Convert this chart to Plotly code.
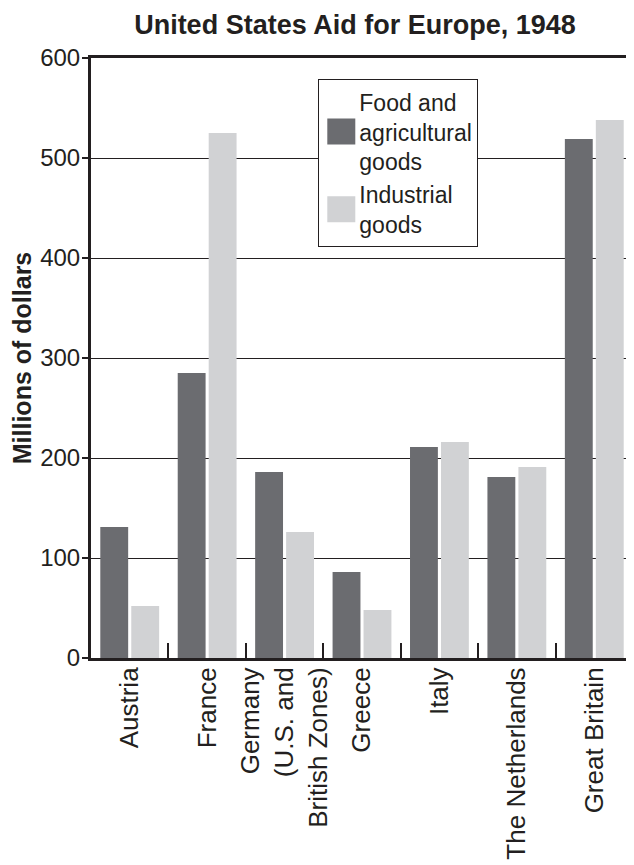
import plotly.graph_objects as go

countries = [
    "Austria",
    "France",
    "Germany<br>(U.S. and<br>British Zones)",
    "Greece",
    "Italy",
    "The Netherlands",
    "Great Britain",
]
food = [131, 285, 186, 86, 211, 181, 519]
industrial = [52, 525, 126, 48, 216, 191, 538]

y_ticks = [0, 100, 200, 300, 400, 500, 600]

FONT = "Liberation Sans, Arial, Helvetica, sans-serif"
DARK = "#6b6c70"
LIGHT = "#d1d2d4"
INK = "#231f20"

fig = go.Figure()
fig.add_trace(go.Bar(
    x=countries, y=food, name="Food and<br>agricultural<br>goods",
    marker=dict(color=DARK, line=dict(width=0)),
))
fig.add_trace(go.Bar(
    x=countries, y=industrial, name="Industrial<br>goods",
    marker=dict(color=LIGHT, line=dict(width=0)),
))

fig.update_layout(
    width=626, height=857,
    margin=dict(l=83, r=1, t=50, b=207),
    paper_bgcolor="white", plot_bgcolor="white",
    barmode="group", bargap=0.2, bargroupgap=0.1,
    font=dict(family=FONT, color=INK, size=24),
    title=dict(
        text="<b>United States Aid for Europe, 1948</b>",
        x=0.487, xref="paper", xanchor="center",
        y=0.981, yref="container", yanchor="middle",
        font=dict(size=27, color=INK, family=FONT),
    ),
    legend=dict(
        x=0.419, y=0.965, xanchor="left", yanchor="top",
        bgcolor="white", bordercolor=INK, borderwidth=1.2,
        font=dict(size=23, color=INK, family=FONT),
        valign="middle", itemwidth=30,
    ),
    showlegend=True,
)

fig.update_xaxes(
    type="category",
    showline=True, linecolor=INK, linewidth=3, mirror=True,
    ticks="inside", tickson="boundaries", ticklen=15, tickwidth=1.5, tickcolor=INK,
    tickangle=-90, tickfont=dict(size=26, family=FONT, color=INK),
    ticklabelstandoff=-4,
    showgrid=False,
)
fig.update_yaxes(
    range=[0, 600], tickvals=y_ticks,
    showline=True, linecolor=INK, linewidth=3,
    ticks="outside", ticklen=6, tickwidth=1.5, tickcolor=INK,
    showgrid=True, gridcolor=INK, gridwidth=1.2,
    zeroline=False,
    ticklabelstandoff=-3,
    tickfont=dict(size=24, family=FONT, color=INK),
    title=dict(text="<b>Millions of dollars</b>", standoff=4,
               font=dict(size=25, family=FONT, color=INK)),
)

# enlarge the legend swatches to match the reference's big square keys
post = """
var gd = document.getElementsByClassName('plotly-graph-div')[0];
function grow(){
  document.querySelectorAll('.legendpoints path').forEach(function(p){
    var t = p.getAttribute('transform') || '';
    if (!p.dataset.origT) { p.dataset.origT = t; }
    p.setAttribute('transform', p.dataset.origT + ' translate(2,0)');
    p.setAttribute('d', 'M14,13H-14V-13H14Z');
  });
}
grow();
gd.on('plotly_afterplot', grow);
"""

fig.write_html("out.html", post_script=post)
